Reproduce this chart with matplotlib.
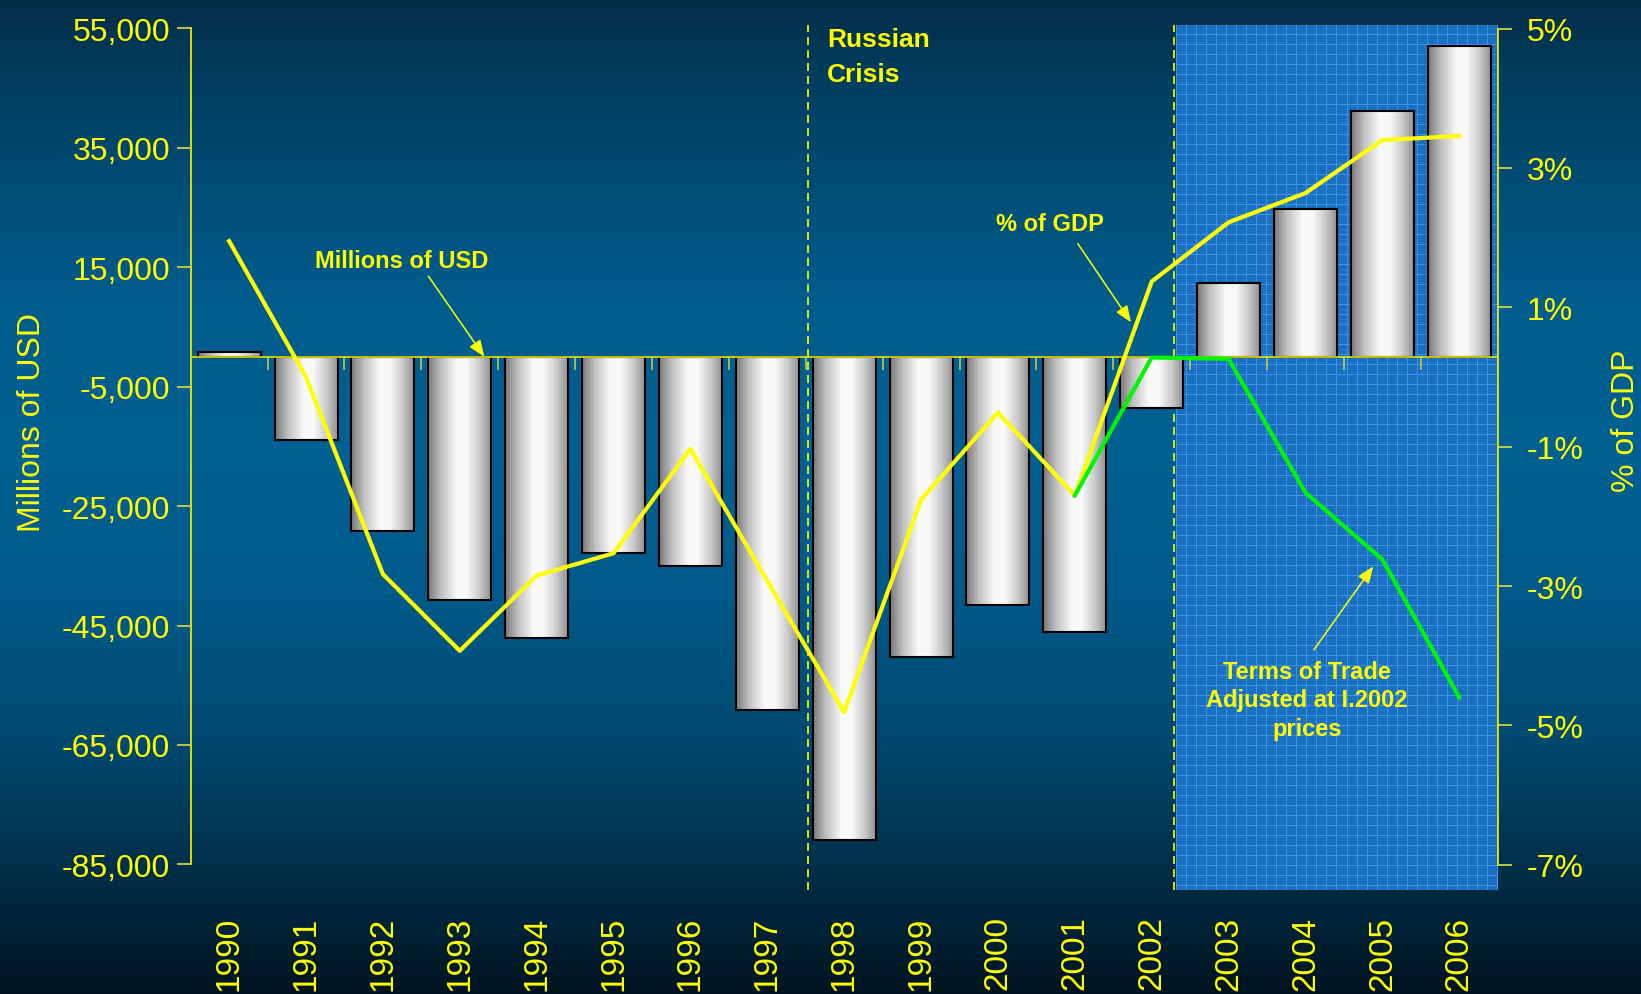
import numpy as np
import matplotlib.pyplot as plt
from matplotlib.colors import LinearSegmentedColormap

plt.rcParams['font.family'] = ['Liberation Sans', 'DejaVu Sans']

years = ["1990", "1991", "1992", "1993", "1994", "1995", "1996", "1997", "1998",
         "1999", "2000", "2001", "2002", "2003", "2004", "2005", "2006"]
# current account, millions of USD
usd_millions = [800, -13900, -29200, -40700, -47100, -32900, -35100, -59100, -80900,
                -50200, -41600, -46000, -8600, 12300, 24700, 41200, 52000]
# current account, % of GDP
gdp_pct = [1.95, 0.0, -2.83, -3.93, -2.85, -2.53, -1.03, -2.93, -4.81,
           -1.76, -0.51, -1.70, 1.37, 2.22, 2.64, 3.40, 3.46]
# terms-of-trade adjusted series (2001 onwards)
tot_years = ["2001", "2002", "2003", "2004", "2005", "2006"]
tot_pct = [-1.70, 0.28, 0.26, -1.66, -2.62, -4.60]

usd_ticks = [-85000, -65000, -45000, -25000, -5000, 15000, 35000, 55000]
pct_ticks = [-7, -5, -3, -1, 1, 3, 5]

YELLOW = '#FFFF00'
TICK_COL = '#CFCF48'
W, H = 1641, 995

fig = plt.figure(figsize=(W / 100, H / 100), dpi=100)

# blue background, dark at top and bottom
bg = fig.add_axes([0, 0, 1, 1], zorder=-10)
bg.axis('off')
stops = [(0.0, (3, 45, 72)), (0.08, (0, 62, 95)), (0.30, (0, 92, 140)),
         (0.45, (0, 97, 147)), (0.60, (0, 90, 137)), (0.75, (0, 72, 110)),
         (0.85, (0, 52, 80)), (0.93, (0, 35, 55)), (1.0, (0, 20, 32))]
t = np.linspace(0, 1, H)
grad = np.stack([np.interp(t, [s[0] for s in stops], [s[1][c] / 255 for s in stops])
                 for c in range(3)], axis=-1)
bg.imshow(grad[:, None, :], aspect='auto', extent=[0, 1, 0, 1], interpolation='bilinear')

ax = fig.add_axes([190.7 / W, (H - 891.4) / H, 1307 / W, 865.4 / H])
ax.patch.set_alpha(0)
ax2 = ax.twinx()

x = np.arange(len(years))
x_tot = np.array([years.index(y) for y in tot_years])

# projection period: blue grid panel
def grid_texture(w, h):
    base = np.array([27, 116, 198]) / 255
    line = np.array([60, 145, 232]) / 255
    img = np.tile(base, (h, w, 1))
    chk = np.add.outer(np.arange(h), np.arange(w)) % 2 == 0
    img[chk] *= 0.94
    img[::10, :, :] = line
    img[:, ::10, :] = line
    return img

ax.imshow(grid_texture(321, 865), extent=[12.32, 16.5, -89350, 55560],
          aspect='auto', interpolation='nearest', zorder=0.5)

ax.axvline(7.53, color=YELLOW, lw=1.2, dashes=(4.8, 3), zorder=1)
ax.axvline(12.29, color=YELLOW, lw=1.2, dashes=(4.8, 3), zorder=1)

# bars with a metallic horizontal shading
bar_cmap = LinearSegmentedColormap.from_list('metal', [
    (0.0, (0.47, 0.47, 0.47)), (0.2, (0.75, 0.75, 0.75)), (0.45, (0.98, 0.98, 0.98)),
    (0.6, (0.98, 0.98, 0.98)), (0.8, (0.80, 0.80, 0.80)), (1.0, (0.55, 0.55, 0.55))])
bars = ax.bar(x, usd_millions, width=0.82, facecolor='none', edgecolor='black',
              linewidth=1.5, zorder=3)
shade = np.linspace(0, 1, 256)[None, :]
for b in bars:
    x0, y0, w, h = b.get_x(), b.get_y(), b.get_width(), b.get_height()
    im = ax.imshow(shade, cmap=bar_cmap, aspect='auto', zorder=2.9,
                   extent=[x0, x0 + w, min(y0, y0 + h), max(y0, y0 + h)])
    im.set_clip_path(b)

ax.set_xlim(-0.5, 16.5)
ax.set_ylim(-89350, 55560)
ax2.set_ylim(-7.369, 5.052)

ax.axhline(0, color='#E6E600', lw=1.2, zorder=4)
ax.plot(x[:-1] + 0.5, np.zeros(len(x) - 1), ls='none', marker=3, ms=9.5,
        mew=1.1, color=TICK_COL, zorder=4)

ax2.plot(x, gdp_pct, color=YELLOW, lw=3, zorder=5)
ax2.plot(x_tot, tot_pct, color='#00F500', lw=3, zorder=5)

# axes styling
for s in ['top', 'right', 'bottom']:
    ax.spines[s].set_visible(False)
for s in ['top', 'left', 'bottom']:
    ax2.spines[s].set_visible(False)
ax.spines['left'].set_bounds(usd_ticks[0], usd_ticks[-1])
ax.spines['left'].set_color('#E8E800')
ax.spines['left'].set_linewidth(1.3)
ax2.spines['right'].set_bounds(pct_ticks[0], pct_ticks[-1])
ax2.spines['right'].set_color('#E8E800')
ax2.spines['right'].set_linewidth(1.3)

ax.set_yticks(usd_ticks, [f"{v:,}" for v in usd_ticks])
ax.tick_params(axis='y', direction='out', length=9.8, width=1.3, color=TICK_COL,
               labelcolor=YELLOW, labelsize=23, pad=5)
ax2.set_yticks(pct_ticks, [f"{v}%" for v in pct_ticks])
ax2.tick_params(axis='y', direction='out', length=9.8, width=1.3, color=TICK_COL,
                labelcolor=YELLOW, labelsize=23, pad=11)

ax.set_xticks(x, years, rotation=90)
ax.tick_params(axis='x', length=0, pad=18, labelsize=24, labelcolor=YELLOW)

fig.text(32 / W, 1 - 423 / H, "Millions of USD", rotation=90, ha='center',
         va='center', fontsize=23, color=YELLOW)
fig.text(1626 / W, 1 - 421 / H, "% of GDP", rotation=90, ha='center',
         va='center', fontsize=23, color=YELLOW)

# annotations
arrow = dict(arrowstyle='-|>,head_length=0.5,head_width=0.2', color=YELLOW,
             lw=1.1, mutation_scale=20, shrinkB=0)
ax.annotate("Millions of USD", xy=(3.32, 0), xytext=(2.24, 15000),
            ha='center', va='baseline', fontsize=17, fontweight='bold', color=YELLOW,
            arrowprops=dict(arrow, relpos=(0.64, 0.0), shrinkA=1), zorder=6)
ax2.annotate("% of GDP", xy=(11.73, 0.785), xytext=(10.67, 2.107),
             ha='center', va='baseline', fontsize=17, fontweight='bold', color=YELLOW,
             arrowprops=dict(arrow, relpos=(0.71, 0.0), shrinkA=5), zorder=6)
ax2.annotate("Terms of Trade\nAdjusted at I.2002\nprices", xy=(14.88, -2.72),
             xytext=(14.02, -4.055), ha='center', va='top', multialignment='center',
             linespacing=1.32, fontsize=17, fontweight='bold', color=YELLOW,
             arrowprops=dict(arrow, relpos=(0.5, 1.0), shrinkA=6), zorder=6)
ax.text(7.776, 55220, "Russian\nCrisis", ha='left', va='top', linespacing=1.59,
        fontsize=19, fontweight='bold', color=YELLOW, zorder=6)

fig.savefig("out.png", dpi=100)
